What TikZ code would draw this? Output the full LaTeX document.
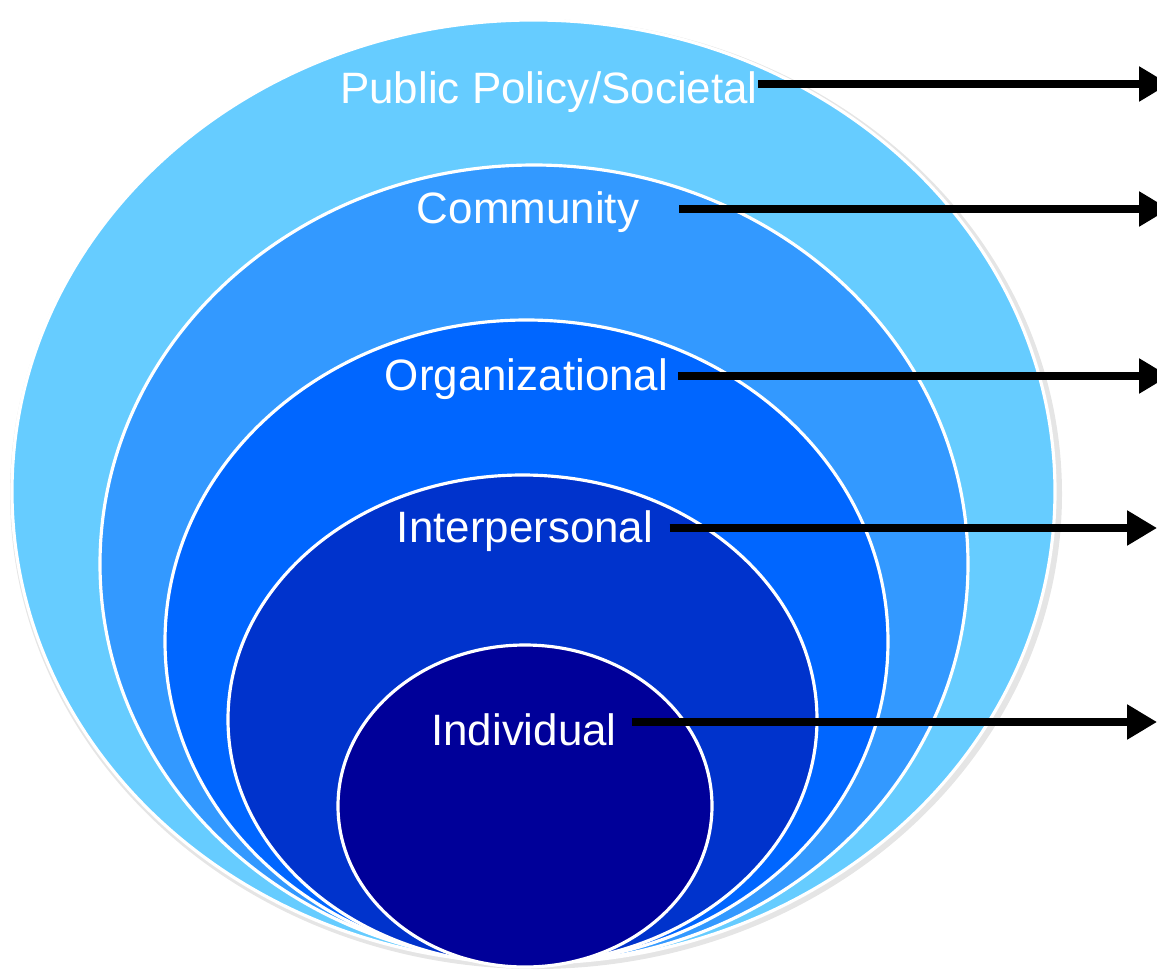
\documentclass[tikz,border=0pt]{standalone}
\usepackage{fontspec}
\setmainfont{Liberation Sans}
\usetikzlibrary{arrows.meta}

\definecolor{lvlsoc}{HTML}{66CCFF}
\definecolor{lvlcom}{HTML}{3399FF}
\definecolor{lvlorg}{HTML}{0066FF}
\definecolor{lvlint}{HTML}{0033CC}
\definecolor{lvlind}{HTML}{000099}

\begin{document}
\begin{tikzpicture}[x=0.02cm,y=-0.02cm,
	every node/.style={font=\fontsize{25}{30}\selectfont, text=white, inner sep=0pt, anchor=base},
	ring/.style={draw=white, line width=1.8pt},
	arr/.style={line width=4pt, -{Triangle[length=17pt,width=19pt]}}]
	\useasboundingbox (0,0) rectangle (1157,970);
	\fill[black, opacity=0.10] (536,494) ellipse [x radius=526, y radius=475];
	\foreach \cx/\cy/\rx/\ry/\c in {533.5/491.5/521.5/471.5/lvlsoc, 534/564/434/399/lvlcom, 526.5/641.5/361.5/321.5/lvlorg, 522.5/719.5/294.5/244.5/lvlint, 525/806/187/161/lvlind} {\draw[ring, fill=\c] (\cx,\cy) ellipse [x radius=\rx, y radius=\ry];}
	\node (soc) at (549,103) {Public Policy/Societal};
	\node (com) at (528,223) {Community};
	\node (org) at (526.5,390) {Organizational};
	\node (int) at (525,542) {Interpersonal};
	\node (ind) at (524,745) {Individual};
	\foreach \n/\g/\t/\y in {soc/0/1169/84, com/40/1169/209, org/10/1169/376, int/16/1157/528, ind/15/1157/722} {\coordinate (\n tip) at (\t,\y); \draw[arr] ([xshift=\g*0.02cm]\n.east |- \n tip) -- (\n tip);}
\end{tikzpicture}
\end{document}
